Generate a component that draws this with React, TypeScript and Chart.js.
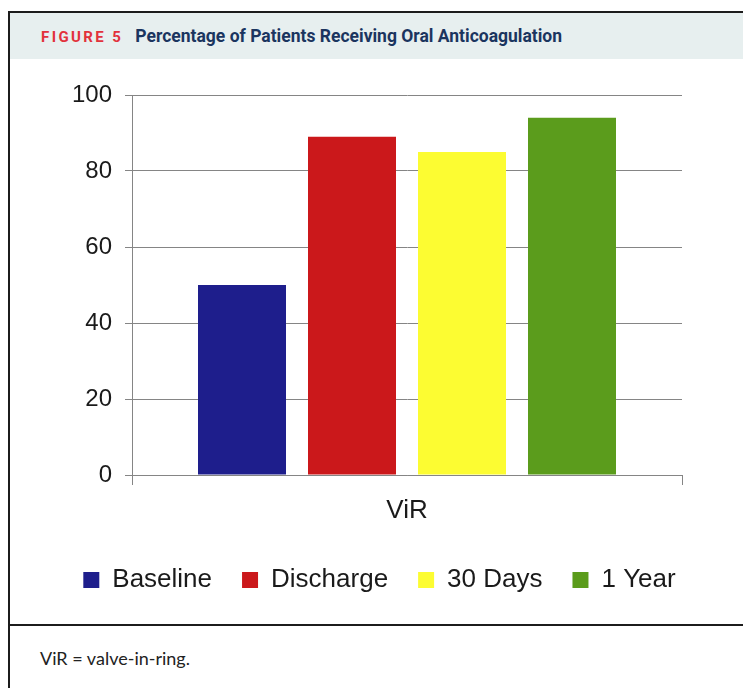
import React, { useEffect, useRef } from 'react';
import { Chart, registerables } from 'chart.js';

Chart.register(...registerables);

const categories = ['ViR'];
const seriesNames = ['Baseline', 'Discharge', '30 Days', '1 Year'];
const baselineValues = [50];
const dischargeValues = [89];
const days30Values = [85];
const year1Values = [94];
const seriesColors = ['#1e1e8c', '#cb181b', '#fcfc32', '#5b9c1c'];
const yMin = 0;
const yMax = 100;
const yStep = 20;

const chartFont = '"Liberation Sans", Arial, sans-serif';
const textFont = 'Roboto, Lato, "Noto Sans", sans-serif';

export default function App() {
  const canvasRef = useRef<HTMLCanvasElement | null>(null);

  useEffect(() => {
    const canvas = canvasRef.current;
    if (!canvas) return;
    const seriesValues = [baselineValues, dischargeValues, days30Values, year1Values];
    const chart = new Chart(canvas, {
      type: 'bar',
      data: {
        labels: categories,
        datasets: seriesNames.map((name, i) => ({
          label: name,
          data: seriesValues[i],
          backgroundColor: seriesColors[i],
          borderWidth: 0,
          categoryPercentage: 0.8,
          barPercentage: 0.8,
          yAxisID: 'y',
        })),
      },
      options: {
        animation: false,
        responsive: false,
        maintainAspectRatio: false,
        devicePixelRatio: 1,
        layout: { padding: { left: 6, right: 0, top: 35, bottom: 21 } },
        plugins: {
          tooltip: { enabled: false },
          title: { display: false },
          legend: {
            display: true,
            position: 'bottom',
            labels: {
              boxWidth: 16,
              boxHeight: 16,
              padding: 30,
              color: '#1a1a1a',
              font: { family: chartFont, size: 26 },
            },
          },
        },
        scales: {
          x: {
            offset: true,
            grid: {
              display: true,
              drawOnChartArea: false,
              drawTicks: true,
              tickLength: 10,
              color: '#858585',
              offset: true,
            },
            border: { display: true, color: '#858585', width: 1 },
            ticks: {
              color: '#1a1a1a',
              padding: 10,
              font: { family: chartFont, size: 26 },
            },
            afterFit: (scale: any) => {
              scale.height = 62;
            },
          },
          y: {
            position: 'left',
            min: yMin,
            max: yMax,
            ticks: {
              stepSize: yStep,
              color: '#1a1a1a',
              padding: 13,
              font: { family: chartFont, size: 24 },
            },
            grid: {
              color: '#858585',
              lineWidth: 1,
              drawTicks: true,
              tickLength: 7,
            },
            border: { display: true, color: '#858585', width: 1 },
            afterFit: (scale: any) => {
              scale.width = 116;
            },
          },
          yRight: {
            position: 'right',
            display: true,
            min: yMin,
            max: yMax,
            ticks: { display: false },
            grid: { display: false, drawTicks: false },
            border: { display: false },
            afterFit: (scale: any) => {
              scale.width = 61;
            },
          },
        },
      },
    });
    return () => chart.destroy();
  }, []);

  return (
    <div
      style={{
        position: 'fixed',
        left: 0,
        top: 0,
        width: 743,
        height: 688,
        overflow: 'hidden',
        background: '#ffffff',
      }}
    >
      <div
        style={{
          position: 'absolute',
          left: 8,
          top: 11,
          width: 800,
          height: 720,
          borderLeft: '2px solid #1c1c1c',
          borderTop: '2px solid #1c1c1c',
          boxSizing: 'border-box',
        }}
      />
      <div
        style={{
          position: 'absolute',
          left: 10,
          top: 13,
          width: 800,
          height: 46,
          background: '#e7efef',
        }}
      />
      <div
        style={{
          position: 'absolute',
          left: 41,
          top: 25,
          height: 22,
          lineHeight: '22px',
          whiteSpace: 'nowrap',
          fontFamily: textFont,
          fontWeight: 700,
        }}
      >
        <span style={{ color: '#e2323c', letterSpacing: 2.4, fontSize: 15 }}>FIGURE 5</span>
        <span style={{ color: '#1b355f', marginLeft: 12, fontSize: 17.5 }}>
          Percentage of Patients Receiving Oral Anticoagulation
        </span>
      </div>
      <canvas
        ref={canvasRef}
        width={733}
        height={564}
        style={{ position: 'absolute', left: 10, top: 60, width: 733, height: 564 }}
      />
      <div
        style={{
          position: 'absolute',
          left: 10,
          top: 624,
          width: 800,
          height: 2,
          background: '#1c1c1c',
        }}
      />
      <div
        style={{
          position: 'absolute',
          left: 40,
          top: 645,
          height: 26,
          lineHeight: '26px',
          whiteSpace: 'nowrap',
          fontFamily: 'Lato, "Noto Sans", sans-serif',
          fontSize: 18,
          color: '#222222',
        }}
      >
        ViR = valve-in-ring.
      </div>
    </div>
  );
}
